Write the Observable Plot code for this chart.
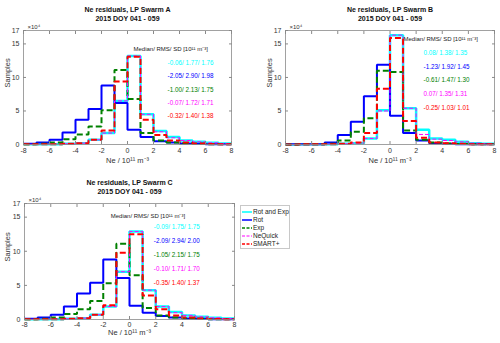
<!DOCTYPE html>
<html><head><meta charset="utf-8">
<script src="https://cdn.jsdelivr.net/npm/d3@7"></script>
<script src="https://cdn.jsdelivr.net/npm/@observablehq/plot@0.6"></script>
<style>
body{margin:0;background:#fff;font-family:"Liberation Sans",Arial,sans-serif;}
#wrap{position:relative;width:500px;height:343px;overflow:hidden;background:#fff;}
.panel{position:absolute;}
.panel svg{overflow:visible;}
#legend{position:absolute;left:240px;top:205px;width:48px;height:42px;border:1px solid #c8c8c8;background:#fff;font-size:6.5px;color:#222;z-index:5;}
#legend .row{position:absolute;left:0;height:8px;line-height:8px;white-space:nowrap;}
#legend svg{position:absolute;left:0;top:0;}
#legend span{position:absolute;left:12px;top:0;}
</style></head><body><div id="wrap"></div>
<script>
// ---- data (units of 10^4 samples); bins of width 1 from -8 to 8 ----
const binLeft = [-8,-7,-6,-5,-4,-3,-2,-1,0,1,2,3,4,5,6,7];
const seriesNames = ["Rot and Exp","Rot","Exp","NeQuick","SMART+"];
const xTicks = [-8,-6,-4,-2,0,2,4,6,8];
const yTicks = [0,5,10,15,17];

const rotExpA = [0.02,0.03,0.05,0.1,0.2,0.7,1.7,6.5,13.2,4.5,2.0,1.1,0.6,0.4,0.25,0.15];
const rotA    = [0.1,0.3,0.7,1.8,3.7,5.3,8.8,6.2,2.2,1.1,0.5,0.3,0.15,0.1,0.05,0.02];
const expA    = [0.05,0.1,0.3,0.8,1.5,2.7,5.1,11.1,6.8,1.7,0.6,0.3,0.2,0.1,0.05,0.03];
const neqA    = [0.02,0.03,0.05,0.1,0.2,0.7,1.7,6.5,13.2,4.5,1.9,1.0,0.6,0.4,0.25,0.15];
const smartA  = [0.02,0.03,0.05,0.1,0.2,0.7,2.1,9.4,13.1,3.7,1.4,0.6,0.3,0.15,0.08,0.05];
const statsA  = ["-0.06/ 1.77/ 1.76","-2.05/ 2.90/ 1.98","-1.00/ 2.13/ 1.75","-0.07/ 1.72/ 1.71","-0.32/ 1.40/ 1.38"];

const rotExpB = [0.01,0.02,0.03,0.05,0.1,0.2,0.9,5.1,16.3,5.4,2.2,0.9,0.7,0.4,0.2,0.1];
const rotB    = [0.02,0.03,0.05,0.3,1.4,3.4,7.2,11.9,4.3,1.7,0.6,0.2,0.1,0.05,0.03,0.02];
const expB    = [0.01,0.02,0.05,0.1,0.6,1.9,3.9,11.0,10.8,2.1,0.7,0.3,0.15,0.08,0.05,0.02];
const neqB    = [0.01,0.02,0.03,0.05,0.1,0.2,0.9,5.0,16.3,5.4,1.5,0.8,0.6,0.4,0.2,0.1];
const smartB  = [0.01,0.02,0.03,0.05,0.1,0.3,1.7,8.3,15.9,3.5,1.0,0.3,0.2,0.1,0.05,0.03];
const statsB  = ["0.08/ 1.38/ 1.35","-1.23/ 1.92/ 1.45","-0.61/ 1.47/ 1.30","0.07/ 1.35/ 1.31","-0.25/ 1.03/ 1.01"];

const rotExpC = [0.02,0.03,0.05,0.1,0.2,0.7,1.9,7.0,12.9,4.3,1.9,1.1,0.6,0.4,0.25,0.15];
const rotC    = [0.1,0.3,0.7,1.9,3.8,5.4,8.8,6.1,2.0,1.0,0.5,0.3,0.15,0.1,0.05,0.02];
const expC    = [0.05,0.1,0.3,0.8,1.5,2.7,5.3,11.1,6.5,1.7,0.6,0.3,0.2,0.1,0.05,0.03];
const neqC    = [0.02,0.03,0.05,0.1,0.2,0.7,1.9,7.0,12.9,4.3,1.9,1.0,0.6,0.4,0.25,0.15];
const smartC  = [0.02,0.03,0.05,0.1,0.2,0.7,2.1,9.8,12.5,3.5,1.5,0.6,0.3,0.15,0.08,0.05];
const statsC  = ["-0.09/ 1.75/ 1.75","-2.09/ 2.94/ 2.00","-1.05/ 2.15/ 1.75","-0.10/ 1.71/ 1.70","-0.35/ 1.40/ 1.37"];

// ---- styles ----
const styles = [
  {stroke:"#00ffff", strokeWidth:2.5, dash:null},
  {stroke:"#0000ff", strokeWidth:2, dash:null},
  {stroke:"#008000", strokeWidth:2, dash:"6,3"},
  {stroke:"#ff00ff", strokeWidth:1, dash:"4,2"},
  {stroke:"#ff0000", strokeWidth:2, dash:"6,3"}
];
const FONT = '"Liberation Sans", Arial, sans-serif';

function stepData(vals){
  const pts = binLeft.map((x,i)=>({x, y: vals[i]}));
  pts.push({x: 8, y: vals[vals.length-1]});
  return pts;
}

function makePanel(cfg){
  const marks = [];
  cfg.series.forEach((vals,i)=>{
    const s = styles[i];
    marks.push(Plot.line(stepData(vals), {x:"x", y:"y", curve:"step-after", stroke:s.stroke, strokeWidth:s.strokeWidth, strokeDasharray:s.dash, strokeLinejoin:"miter", strokeLinecap:"butt"}));
  });
  // stats annotation
  marks.push(Plot.text(["Median/ RMS/ SD [10¹¹ m⁻³]"], {x:()=>cfg.hx, y:()=>cfg.hy, text:d=>d, textAnchor:"start", fontSize:6, fill:"#222"}));
  marks.push(Plot.text(cfg.stats.map((t,i)=>({t,i})), {x:()=>cfg.vx, y:d=>cfg.vy - d.i*cfg.vs, text:"t", textAnchor:"start", fontSize:6.3, fill:d=>styles[d.i].stroke}));
  // frame and axes
  marks.push(Plot.frame({stroke:"#8a8a8a", strokeWidth:0.8}));
  marks.push(Plot.axisX({ticks:xTicks, tickSize:-3, tickPadding:cfg.xtp, stroke:"#8a8a8a", fill:"#333", fontSize:7, label:null, tickFormat:d=>String(d)}));
  marks.push(Plot.axisX({anchor:"top", ticks:xTicks, tickSize:-3, stroke:"#8a8a8a", tickFormat:()=> "", label:null}));
  marks.push(Plot.axisY({ticks:yTicks, tickSize:-3, tickPadding:7, stroke:"#8a8a8a", fill:"#333", fontSize:7, label:null, tickFormat:d=>String(d)}));
  marks.push(Plot.axisY({anchor:"right", ticks:yTicks, tickSize:-3, stroke:"#8a8a8a", tickFormat:()=> "", label:null}));
  // titles and labels
  marks.push(Plot.text([cfg.title], {frameAnchor:"top", dy:-23, fontSize:7, fontWeight:"bold", fill:"#111"}));
  marks.push(Plot.text(["2015 DOY 041 - 059"], {frameAnchor:"top", dy:-14, fontSize:7, fontWeight:"bold", fill:"#111"}));
  marks.push(Plot.text(["×10⁴"], {frameAnchor:"top-left", dy:-6, dx:4, textAnchor:"start", fontSize:6, fill:"#333"}));
  marks.push(Plot.text(["Samples"], {frameAnchor:"left", rotate:-90, dx:cfg.ylabDx, fontSize:7.5, fill:"#333"}));
  marks.push(Plot.text(["Ne / 10¹¹ m⁻³"], {frameAnchor:"bottom", dy:cfg.xlabDy, fontSize:7.5, fill:"#333"}));

  const svg = Plot.plot({
    width: cfg.w, height: cfg.h,
    marginLeft: cfg.ml, marginRight: cfg.mr, marginTop: cfg.mt, marginBottom: cfg.mb,
    x: {domain:[-8,8]},
    y: {domain:[0,17]},
    style: {fontFamily: FONT, background:"transparent", overflow:"visible"},
    marks
  });
  const div = document.createElement("div");
  div.className = "panel";
  div.style.left = cfg.left + "px";
  div.style.top = cfg.top + "px";
  div.appendChild(svg);
  document.getElementById("wrap").appendChild(div);
}

makePanel({title:"Ne residuals, LP Swarm A", series:[rotExpA,rotA,expA,neqA,smartA], stats:statsA,
  left:0, top:0, w:250, h:170, ml:23, mr:19, mt:30, mb:26,
  hx:0.46, hy:14.2, vx:3.08, vy:12.2, vs:2.0, ylabDx:-16, xlabDy:18, xtp:6.5});
makePanel({title:"Ne residuals, LP Swarm B", series:[rotExpB,rotB,expB,neqB,smartB], stats:statsB,
  left:250, top:0, w:250, h:170, ml:35, mr:6, mt:30, mb:26,
  hx:1.03, hy:15.7, vx:2.57, vy:13.7, vs:2.07, ylabDx:-16, xlabDy:18, xtp:6.5});
makePanel({title:"Ne residuals, LP Swarm C", series:[rotExpC,rotC,expC,neqC,smartC], stats:statsC,
  left:0, top:170, w:250, h:173, ml:24, mr:16, mt:33, mb:24,
  hx:-1.43, hy:15.2, vx:1.85, vy:13.5, vs:2.05, ylabDx:-17, xlabDy:15, xtp:5.5});

// legend
const lg = document.createElement("div");
lg.id = "legend";
seriesNames.forEach((name,i)=>{
  const s = styles[i];
  const row = document.createElement("div");
  row.className = "row";
  row.style.top = (2 + i*8) + "px";
  row.style.width = "48px";
  row.innerHTML = `<svg width="12" height="8"><line x1="1" x2="11" y1="4" y2="4" stroke="${s.stroke}" stroke-width="${Math.min(s.strokeWidth,1.5)}" ${s.dash?`stroke-dasharray="3,1.5"`:""}/></svg><span>${name}</span>`;
  lg.appendChild(row);
});
document.getElementById("wrap").appendChild(lg);
</script>
</body></html>
